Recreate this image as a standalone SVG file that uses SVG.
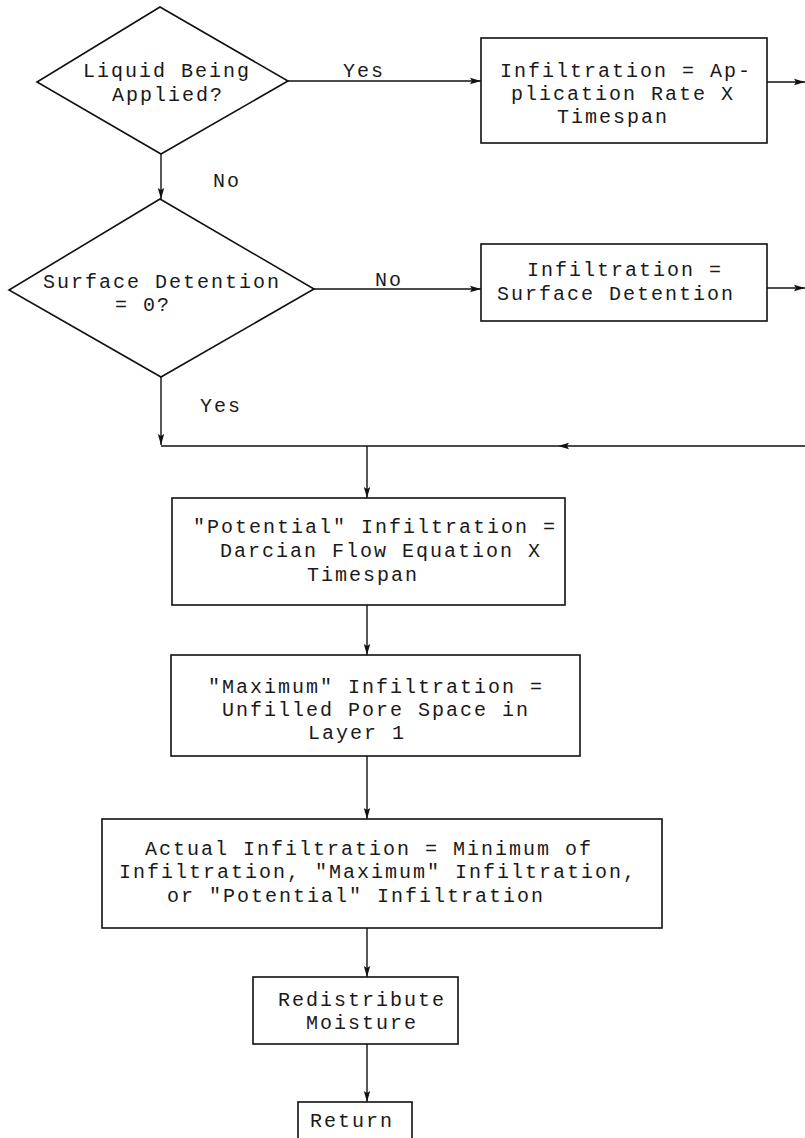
<svg xmlns="http://www.w3.org/2000/svg" width="805" height="1138" viewBox="0 0 805 1138">
<style>
.s{fill:none;stroke:#111;stroke-width:1.6}
.c{fill:none;stroke:#111;stroke-width:1.4}
text{font-family:"Liberation Mono","DejaVu Sans Mono",monospace;font-size:20px;letter-spacing:2px;fill:#1a1a1a}
</style>
<defs>
<marker id="ah" markerUnits="userSpaceOnUse" markerWidth="12" markerHeight="8" refX="11" refY="4" orient="auto">
<path d="M0,0.8 L11,4 L0,7.2 L2,4 z" fill="#111"/>
</marker>
</defs>
<rect width="805" height="1138" fill="#fff"/>
<g id="connectors">
<path class="c" d="M288,81 H481" marker-end="url(#ah)"/>
<path class="c" d="M161,154 V199" marker-end="url(#ah)"/>
<path class="c" d="M314,289 H481" marker-end="url(#ah)"/>
<path class="c" d="M767,82 H805" marker-end="url(#ah)"/>
<path class="c" d="M767,288 H805" marker-end="url(#ah)"/>
<path class="c" d="M161,377 V445" marker-end="url(#ah)"/>
<path class="c" d="M805,446 L558,446 L161,446" marker-mid="url(#ah)"/>
<path class="c" d="M367,446 V498" marker-end="url(#ah)"/>
<path class="c" d="M367,605 V655" marker-end="url(#ah)"/>
<path class="c" d="M367,756 V819" marker-end="url(#ah)"/>
<path class="c" d="M367,928 V977" marker-end="url(#ah)"/>
<path class="c" d="M367,1044 V1102" marker-end="url(#ah)"/>
<text x="343" y="77">Yes</text>
<text x="213" y="187">No</text>
<text x="375" y="286">No</text>
<text x="200" y="412">Yes</text>
</g>
<g id="d1">
<polygon class="s" points="160,7 288,81 161,154 37,82"/>
<text x="83" y="77">Liquid Being</text>
<text x="112" y="101">Applied?</text>
</g>
<g id="b1">
<rect class="s" x="481" y="38" width="286" height="105"/>
<text x="500" y="77">Infiltration = Ap-</text>
<text x="511" y="100">plication Rate X</text>
<text x="557" y="123">Timespan</text>
</g>
<g id="d2">
<polygon class="s" points="160,199 314,289 161,377 9,290"/>
<text x="43" y="288">Surface Detention</text>
<text x="115" y="311">= 0?</text>
</g>
<g id="b2">
<rect class="s" x="481" y="244" width="286" height="77"/>
<text x="527" y="276">Infiltration =</text>
<text x="497" y="300">Surface Detention</text>
</g>
<g id="b3">
<rect class="s" x="172" y="498" width="393" height="107"/>
<text x="193" y="533">"Potential" Infiltration =</text>
<text x="220" y="557">Darcian Flow Equation X</text>
<text x="307" y="581">Timespan</text>
</g>
<g id="b4">
<rect class="s" x="171" y="655" width="409" height="101"/>
<text x="208" y="693">"Maximum" Infiltration =</text>
<text x="222" y="716">Unfilled Pore Space in</text>
<text x="308" y="739">Layer 1</text>
</g>
<g id="b5">
<rect class="s" x="102" y="819" width="560" height="109"/>
<text x="145" y="855">Actual Infiltration = Minimum of</text>
<text x="119" y="878">Infiltration, "Maximum" Infiltration,</text>
<text x="167" y="902">or "Potential" Infiltration</text>
</g>
<g id="b6">
<rect class="s" x="253" y="977" width="205" height="67"/>
<text x="278" y="1006">Redistribute</text>
<text x="306" y="1029">Moisture</text>
</g>
<g id="b7">
<rect class="s" x="298" y="1102" width="114" height="60"/>
<text x="310" y="1127">Return</text>
</g>
</svg>
